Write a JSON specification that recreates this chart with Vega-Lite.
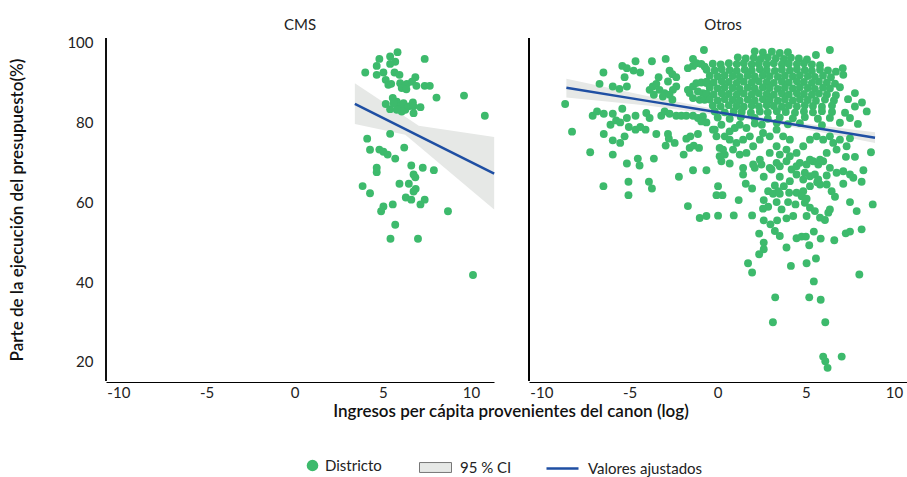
{
"$schema": "https://vega.github.io/schema/vega-lite/v6.json",
"padding": {"left": 8, "top": 18, "right": 0, "bottom": 0},
"data": {"values": [
{"g":"CMS","x":5.83,"y":97.7},{"g":"CMS","x":5.41,"y":96.6},{"g":"CMS","x":4.8,"y":96.0},{"g":"CMS","x":7.37,"y":96.0},{"g":"CMS","x":5.70,"y":95.3},{"g":"CMS","x":5.41,"y":94.75},{"g":"CMS","x":4.65,"y":94.25},{"g":"CMS","x":4.0,"y":92.6},{"g":"CMS","x":4.65,"y":92.0},{"g":"CMS","x":5.03,"y":92.6},{"g":"CMS","x":5.66,"y":92.6},{"g":"CMS","x":5.94,"y":92.0},{"g":"CMS","x":6.84,"y":91.4},{"g":"CMS","x":5.16,"y":90.75},{"g":"CMS","x":5.31,"y":89.5},{"g":"CMS","x":5.47,"y":89.75},{"g":"CMS","x":5.98,"y":89.9},{"g":"CMS","x":6.36,"y":89.75},{"g":"CMS","x":6.65,"y":90.3},{"g":"CMS","x":6.90,"y":89.25},{"g":"CMS","x":7.37,"y":89.25},{"g":"CMS","x":7.66,"y":89.25},{"g":"CMS","x":6.07,"y":88.7},{"g":"CMS","x":6.33,"y":88.4},{"g":"CMS","x":9.6,"y":86.8},{"g":"CMS","x":8.04,"y":86.3},{"g":"CMS","x":5.56,"y":86.2},{"g":"CMS","x":5.16,"y":84.7},{"g":"CMS","x":5.41,"y":83.4},{"g":"CMS","x":5.79,"y":85.3},{"g":"CMS","x":5.89,"y":84.5},{"g":"CMS","x":5.98,"y":84.1},{"g":"CMS","x":6.17,"y":84.9},{"g":"CMS","x":6.27,"y":83.25},{"g":"CMS","x":6.46,"y":84.1},{"g":"CMS","x":6.70,"y":85.1},{"g":"CMS","x":6.74,"y":84.1},{"g":"CMS","x":7.13,"y":83.9},{"g":"CMS","x":6.74,"y":82.4},{"g":"CMS","x":6.07,"y":82.8},{"g":"CMS","x":5.79,"y":83.25},{"g":"CMS","x":5.6,"y":84.9},{"g":"CMS","x":10.78,"y":81.75},{"g":"CMS","x":5.41,"y":77.2},{"g":"CMS","x":4.11,"y":76.0},{"g":"CMS","x":4.27,"y":73.2},{"g":"CMS","x":4.8,"y":73.25},{"g":"CMS","x":5.03,"y":72.7},{"g":"CMS","x":5.27,"y":72.0},{"g":"CMS","x":6.21,"y":73.75},{"g":"CMS","x":5.70,"y":71.0},{"g":"CMS","x":4.65,"y":68.7},{"g":"CMS","x":4.65,"y":67.6},{"g":"CMS","x":6.61,"y":69.25},{"g":"CMS","x":7.26,"y":68.7},{"g":"CMS","x":7.89,"y":68.1},{"g":"CMS","x":6.74,"y":67.0},{"g":"CMS","x":6.84,"y":66.3},{"g":"CMS","x":3.85,"y":64.1},{"g":"CMS","x":4.27,"y":62.3},{"g":"CMS","x":5.94,"y":64.7},{"g":"CMS","x":6.47,"y":64.7},{"g":"CMS","x":6.86,"y":63.4},{"g":"CMS","x":6.74,"y":62.75},{"g":"CMS","x":6.30,"y":61.25},{"g":"CMS","x":6.61,"y":60.7},{"g":"CMS","x":7.37,"y":60.7},{"g":"CMS","x":7.13,"y":59.5},{"g":"CMS","x":5.56,"y":59.5},{"g":"CMS","x":5.03,"y":59.0},{"g":"CMS","x":4.9,"y":57.8},{"g":"CMS","x":8.69,"y":57.8},{"g":"CMS","x":5.70,"y":54.4},{"g":"CMS","x":5.43,"y":50.9},{"g":"CMS","x":6.99,"y":50.9},{"g":"CMS","x":10.11,"y":41.8},
{"g":"Otros","x":-0.78,"y":98.25},{"g":"Otros","x":-2.95,"y":96.0},{"g":"Otros","x":-3.73,"y":95.43},{"g":"Otros","x":-4.66,"y":95.43},{"g":"Otros","x":-5.41,"y":94.25},{"g":"Otros","x":-5.15,"y":93.68},{"g":"Otros","x":-4.77,"y":93.08},{"g":"Otros","x":-4.39,"y":92.58},{"g":"Otros","x":-6.48,"y":92.58},{"g":"Otros","x":-5.28,"y":91.43},{"g":"Otros","x":-3.35,"y":91.43},{"g":"Otros","x":-2.73,"y":93.08},{"g":"Otros","x":-2.57,"y":92.18},{"g":"Otros","x":-2.35,"y":91.43},{"g":"Otros","x":-1.69,"y":93.68},{"g":"Otros","x":-1.40,"y":94.25},{"g":"Otros","x":-1.21,"y":94.93},{"g":"Otros","x":-0.93,"y":94.75},{"g":"Otros","x":-0.74,"y":94.08},{"g":"Otros","x":-1.40,"y":96.0},
{"g":"Otros","x":-6.70,"y":89.75},{"g":"Otros","x":-5.95,"y":89.08},{"g":"Otros","x":-5.57,"y":88.5},{"g":"Otros","x":-5.15,"y":89.08},{"g":"Otros","x":-3.86,"y":88.25},{"g":"Otros","x":-3.68,"y":89.08},{"g":"Otros","x":-3.48,"y":89.75},{"g":"Otros","x":-3.30,"y":88.25},{"g":"Otros","x":-3.01,"y":87.43},{"g":"Otros","x":-3.11,"y":86.58},{"g":"Otros","x":-2.82,"y":90.33},{"g":"Otros","x":-2.54,"y":88.25},{"g":"Otros","x":-2.35,"y":89.08},{"g":"Otros","x":-2.73,"y":87.0},{"g":"Otros","x":-3.62,"y":87.0},{"g":"Otros","x":-2.57,"y":85.75},{"g":"Otros","x":-1.69,"y":88.25},{"g":"Otros","x":-1.40,"y":89.08},{"g":"Otros","x":-1.21,"y":89.93},{"g":"Otros","x":-0.93,"y":90.08},{"g":"Otros","x":-0.64,"y":89.93},{"g":"Otros","x":-1.59,"y":87.43},{"g":"Otros","x":-1.12,"y":87.83},{"g":"Otros","x":-0.84,"y":87.43},{"g":"Otros","x":-1.40,"y":86.18},{"g":"Otros","x":-1.02,"y":85.75},{"g":"Otros","x":-0.74,"y":85.75},
{"g":"Otros","x":-8.65,"y":84.68},{"g":"Otros","x":-7.09,"y":81.75},{"g":"Otros","x":-6.84,"y":82.83},{"g":"Otros","x":-6.46,"y":82.25},{"g":"Otros","x":-5.95,"y":82.25},{"g":"Otros","x":-5.41,"y":83.5},{"g":"Otros","x":-5.15,"y":81.18},{"g":"Otros","x":-4.66,"y":81.75},{"g":"Otros","x":-4.05,"y":82.43},{"g":"Otros","x":-3.86,"y":81.18},{"g":"Otros","x":-3.20,"y":81.75},{"g":"Otros","x":-3.01,"y":82.83},{"g":"Otros","x":-2.73,"y":82.25},{"g":"Otros","x":-2.35,"y":81.75},{"g":"Otros","x":-2.06,"y":81.75},{"g":"Otros","x":-1.78,"y":81.75},{"g":"Otros","x":-1.40,"y":81.75},{"g":"Otros","x":-1.12,"y":81.18},{"g":"Otros","x":-0.84,"y":81.58},
{"g":"Otros","x":-6.08,"y":79.5},{"g":"Otros","x":-5.76,"y":80.58},{"g":"Otros","x":-5.53,"y":80.08},{"g":"Otros","x":-5.04,"y":78.93},{"g":"Otros","x":-4.66,"y":78.25},{"g":"Otros","x":-4.39,"y":78.93},{"g":"Otros","x":-4.09,"y":78.25},{"g":"Otros","x":-0.93,"y":80.33},{"g":"Otros","x":-0.64,"y":80.08},
{"g":"Otros","x":-8.26,"y":77.75},{"g":"Otros","x":-6.46,"y":77.18},{"g":"Otros","x":-5.28,"y":76.58},{"g":"Otros","x":-5.95,"y":75.58},{"g":"Otros","x":-5.53,"y":74.93},{"g":"Otros","x":-3.48,"y":77.18},{"g":"Otros","x":-2.82,"y":77.18},{"g":"Otros","x":-2.77,"y":76.0},{"g":"Otros","x":-2.44,"y":74.93},{"g":"Otros","x":-2.95,"y":74.25},{"g":"Otros","x":-1.78,"y":76.0},{"g":"Otros","x":-1.55,"y":76.58},{"g":"Otros","x":-1.12,"y":77.18},{"g":"Otros","x":-1.36,"y":74.25},{"g":"Otros","x":-1.59,"y":73.68},{"g":"Otros","x":-1.06,"y":73.68},{"g":"Otros","x":-0.27,"y":78.25},
{"g":"Otros","x":-7.23,"y":72.58},{"g":"Otros","x":-5.95,"y":72.0},{"g":"Otros","x":-4.53,"y":71.0},{"g":"Otros","x":-4.43,"y":69.25},{"g":"Otros","x":-3.62,"y":71.0},{"g":"Otros","x":-5.15,"y":69.75},{"g":"Otros","x":-1.93,"y":72.0},{"g":"Otros","x":0.11,"y":73.68},{"g":"Otros","x":0.40,"y":72.0},{"g":"Otros","x":0.21,"y":70.33},{"g":"Otros","x":-2.20,"y":66.43},{"g":"Otros","x":-1.40,"y":68.08},{"g":"Otros","x":-0.64,"y":68.08},{"g":"Otros","x":-6.48,"y":64.08},{"g":"Otros","x":-5.06,"y":65.18},{"g":"Otros","x":-5.06,"y":61.83},{"g":"Otros","x":-3.90,"y":65.18},{"g":"Otros","x":-3.73,"y":63.5},{"g":"Otros","x":0.02,"y":64.08},{"g":"Otros","x":-0.07,"y":61.83},{"g":"Otros","x":0.27,"y":61.83},{"g":"Otros","x":-1.69,"y":59.08},{"g":"Otros","x":-1.02,"y":56.08},{"g":"Otros","x":-0.64,"y":56.58},{"g":"Otros","x":0.02,"y":56.68},
{"g":"Otros","x":0.68,"y":69.75},{"g":"Otros","x":1.44,"y":68.68},{"g":"Otros","x":1.44,"y":67.0},{"g":"Otros","x":2.10,"y":68.68},{"g":"Otros","x":2.48,"y":69.5},{"g":"Otros","x":2.95,"y":68.68},{"g":"Otros","x":3.34,"y":69.93},{"g":"Otros","x":3.52,"y":69.08},{"g":"Otros","x":3.90,"y":70.33},{"g":"Otros","x":4.19,"y":68.25},{"g":"Otros","x":4.47,"y":69.08},{"g":"Otros","x":4.66,"y":69.93},{"g":"Otros","x":5.04,"y":69.5},{"g":"Otros","x":5.41,"y":70.33},{"g":"Otros","x":5.70,"y":69.5},{"g":"Otros","x":5.98,"y":70.33},{"g":"Otros","x":6.36,"y":68.68},{"g":"Otros","x":6.74,"y":67.43},{"g":"Otros","x":7.12,"y":67.83},{"g":"Otros","x":7.50,"y":67.0},{"g":"Otros","x":7.69,"y":66.18},{"g":"Otros","x":8.26,"y":68.08},
{"g":"Otros","x":2.61,"y":66.43},{"g":"Otros","x":3.52,"y":66.43},{"g":"Otros","x":3.05,"y":68.25},{"g":"Otros","x":4.09,"y":65.33},{"g":"Otros","x":4.47,"y":67.0},{"g":"Otros","x":4.94,"y":67.43},{"g":"Otros","x":4.85,"y":65.75},{"g":"Otros","x":5.23,"y":66.58},{"g":"Otros","x":5.51,"y":67.0},{"g":"Otros","x":5.70,"y":65.75},{"g":"Otros","x":6.18,"y":66.75},{"g":"Otros","x":5.80,"y":64.5},{"g":"Otros","x":1.59,"y":64.68},{"g":"Otros","x":1.95,"y":63.5},{"g":"Otros","x":1.19,"y":60.58},
{"g":"Otros","x":3.24,"y":64.25},{"g":"Otros","x":3.75,"y":64.08},{"g":"Otros","x":3.43,"y":62.83},{"g":"Otros","x":2.86,"y":62.83},{"g":"Otros","x":3.14,"y":62.18},{"g":"Otros","x":3.52,"y":62.18},{"g":"Otros","x":4.05,"y":62.43},{"g":"Otros","x":4.47,"y":62.43},{"g":"Otros","x":4.85,"y":62.83},{"g":"Otros","x":4.76,"y":61.58},{"g":"Otros","x":5.04,"y":60.93},{"g":"Otros","x":5.23,"y":64.08},{"g":"Otros","x":5.64,"y":65.08},{"g":"Otros","x":6.18,"y":64.5},{"g":"Otros","x":6.46,"y":62.83},{"g":"Otros","x":6.65,"y":61.43},{"g":"Otros","x":7.12,"y":64.68},{"g":"Otros","x":8.16,"y":65.18},{"g":"Otros","x":7.50,"y":60.08},{"g":"Otros","x":7.88,"y":57.83},{"g":"Otros","x":8.79,"y":59.5},
{"g":"Otros","x":2.61,"y":60.58},{"g":"Otros","x":2.86,"y":58.93},{"g":"Otros","x":2.57,"y":58.43},{"g":"Otros","x":3.34,"y":60.08},{"g":"Otros","x":3.62,"y":58.25},{"g":"Otros","x":3.99,"y":60.08},{"g":"Otros","x":4.41,"y":59.5},{"g":"Otros","x":4.94,"y":59.93},{"g":"Otros","x":5.23,"y":58.68},{"g":"Otros","x":5.51,"y":57.83},{"g":"Otros","x":5.80,"y":56.18},{"g":"Otros","x":6.08,"y":55.58},{"g":"Otros","x":6.27,"y":57.43},{"g":"Otros","x":6.36,"y":58.25},
{"g":"Otros","x":0.91,"y":56.75},{"g":"Otros","x":1.95,"y":56.75},{"g":"Otros","x":2.61,"y":55.5},{"g":"Otros","x":3.37,"y":55.5},{"g":"Otros","x":3.90,"y":56.0},{"g":"Otros","x":4.28,"y":56.58},{"g":"Otros","x":5.04,"y":56.58},{"g":"Otros","x":2.99,"y":54.5},{"g":"Otros","x":3.24,"y":52.83},{"g":"Otros","x":3.52,"y":51.58},{"g":"Otros","x":2.35,"y":52.18},{"g":"Otros","x":2.61,"y":49.93},{"g":"Otros","x":2.61,"y":48.25},{"g":"Otros","x":2.35,"y":47.0},{"g":"Otros","x":4.47,"y":51.0},{"g":"Otros","x":4.76,"y":51.43},{"g":"Otros","x":5.0,"y":51.43},{"g":"Otros","x":5.45,"y":52.68},{"g":"Otros","x":5.84,"y":50.93},{"g":"Otros","x":6.61,"y":50.5},{"g":"Otros","x":7.26,"y":52.25},{"g":"Otros","x":7.50,"y":52.68},{"g":"Otros","x":8.16,"y":53.25},{"g":"Otros","x":3.90,"y":48.68},{"g":"Otros","x":5.19,"y":49.25},
{"g":"Otros","x":1.72,"y":44.75},{"g":"Otros","x":1.95,"y":42.43},{"g":"Otros","x":4.15,"y":44.08},{"g":"Otros","x":5.04,"y":44.75},{"g":"Otros","x":5.57,"y":45.93},{"g":"Otros","x":8.03,"y":41.93},{"g":"Otros","x":3.26,"y":36.18},{"g":"Otros","x":3.13,"y":29.93},{"g":"Otros","x":5.45,"y":40.18},{"g":"Otros","x":5.19,"y":36.18},{"g":"Otros","x":5.84,"y":35.58},{"g":"Otros","x":6.10,"y":29.93},{"g":"Otros","x":5.98,"y":21.33},{"g":"Otros","x":6.10,"y":20.18},{"g":"Otros","x":6.23,"y":18.5},{"g":"Otros","x":7.03,"y":21.33},{"g":"Otros","x":8.69,"y":72.58},{"g":"Otros","x":7.78,"y":71.43},{"g":"Otros","x":7.27,"y":71.43},
{"g":"Otros","x":-0.17,"y":78.25},{"g":"Otros","x":0.21,"y":79.5},{"g":"Otros","x":0.40,"y":76.58},{"g":"Otros","x":-0.07,"y":76.58},{"g":"Otros","x":0.68,"y":77.83},{"g":"Otros","x":0.97,"y":78.68},{"g":"Otros","x":1.25,"y":79.5},{"g":"Otros","x":1.63,"y":78.68},{"g":"Otros","x":1.82,"y":76.58},{"g":"Otros","x":1.44,"y":75.75},{"g":"Otros","x":1.06,"y":74.93},{"g":"Otros","x":0.68,"y":75.75},{"g":"Otros","x":0.30,"y":73.25},{"g":"Otros","x":0.11,"y":71.58},{"g":"Otros","x":0.87,"y":73.25},{"g":"Otros","x":1.25,"y":72.0},{"g":"Otros","x":1.63,"y":72.43},{"g":"Otros","x":2.01,"y":74.08},{"g":"Otros","x":2.39,"y":75.75},{"g":"Otros","x":2.57,"y":77.43},{"g":"Otros","x":2.95,"y":76.58},{"g":"Otros","x":3.34,"y":78.25},{"g":"Otros","x":3.71,"y":76.58},{"g":"Otros","x":4.09,"y":75.75},{"g":"Otros","x":3.90,"y":73.25},{"g":"Otros","x":3.34,"y":74.08},{"g":"Otros","x":2.95,"y":72.43},{"g":"Otros","x":3.52,"y":72.0},{"g":"Otros","x":4.09,"y":71.58},{"g":"Otros","x":4.47,"y":72.43},{"g":"Otros","x":4.85,"y":74.08},{"g":"Otros","x":5.23,"y":75.75},{"g":"Otros","x":5.61,"y":76.58},{"g":"Otros","x":5.98,"y":75.75},{"g":"Otros","x":6.36,"y":76.58},{"g":"Otros","x":6.55,"y":74.93},{"g":"Otros","x":6.93,"y":75.75},{"g":"Otros","x":7.31,"y":74.08},{"g":"Otros","x":6.74,"y":73.25},{"g":"Otros","x":6.18,"y":72.43},{"g":"Otros","x":5.80,"y":70.75},{"g":"Otros","x":5.23,"y":70.75},{"g":"Otros","x":2.39,"y":70.75},{"g":"Otros","x":2.01,"y":69.5},{"g":"Otros","x":7.50,"y":76.08},
{"g":"Otros","x":7.78,"y":87.43},{"g":"Otros","x":8.18,"y":85.08},{"g":"Otros","x":8.45,"y":82.83},{"g":"Otros","x":7.78,"y":84.08},{"g":"Otros","x":7.50,"y":81.18},{"g":"Otros","x":7.09,"y":93.68},{"g":"Otros","x":7.12,"y":92.0},{"g":"Otros","x":6.36,"y":98.25},{"g":"Otros","x":5.57,"y":97.0},
{"g":"Otros","x":2.10,"y":97.9},{"g":"Otros","x":2.56,"y":97.6},{"g":"Otros","x":3.07,"y":97.8},{"g":"Otros","x":3.52,"y":97.5},{"g":"Otros","x":3.98,"y":97.7},
{"g":"Otros","x":1.14,"y":96.4},{"g":"Otros","x":1.59,"y":96.1},{"g":"Otros","x":2.05,"y":96.3},{"g":"Otros","x":2.44,"y":96.0},{"g":"Otros","x":2.84,"y":96.4},{"g":"Otros","x":3.30,"y":96.2},{"g":"Otros","x":3.75,"y":96.0},{"g":"Otros","x":4.15,"y":96.3},{"g":"Otros","x":4.60,"y":96.1},{"g":"Otros","x":5.06,"y":95.9},
{"g":"Otros","x":-0.28,"y":94.8},{"g":"Otros","x":0.17,"y":94.6},{"g":"Otros","x":0.63,"y":94.9},{"g":"Otros","x":1.08,"y":94.7},{"g":"Otros","x":1.48,"y":94.9},{"g":"Otros","x":1.93,"y":94.6},{"g":"Otros","x":2.33,"y":94.8},{"g":"Otros","x":2.78,"y":94.7},{"g":"Otros","x":3.18,"y":94.9},{"g":"Otros","x":3.64,"y":94.6},{"g":"Otros","x":4.03,"y":94.8},{"g":"Otros","x":4.49,"y":94.7},{"g":"Otros","x":4.89,"y":94.9},{"g":"Otros","x":5.34,"y":94.6},{"g":"Otros","x":5.80,"y":94.4},
{"g":"Otros","x":-0.63,"y":93.3},{"g":"Otros","x":-0.17,"y":93.1},{"g":"Otros","x":0.23,"y":93.4},{"g":"Otros","x":0.68,"y":93.2},{"g":"Otros","x":1.08,"y":93.0},{"g":"Otros","x":1.53,"y":93.3},{"g":"Otros","x":1.93,"y":93.1},{"g":"Otros","x":2.39,"y":93.4},{"g":"Otros","x":2.78,"y":93.2},{"g":"Otros","x":3.24,"y":93.0},{"g":"Otros","x":3.64,"y":93.3},{"g":"Otros","x":4.09,"y":93.1},{"g":"Otros","x":4.49,"y":93.4},{"g":"Otros","x":4.94,"y":93.2},{"g":"Otros","x":5.34,"y":93.0},{"g":"Otros","x":5.80,"y":93.3},{"g":"Otros","x":6.25,"y":93.1},{"g":"Otros","x":6.70,"y":92.8},
{"g":"Otros","x":-0.45,"y":91.8},{"g":"Otros","x":0,"y":91.6},{"g":"Otros","x":0.40,"y":91.9},{"g":"Otros","x":0.85,"y":91.7},{"g":"Otros","x":1.25,"y":91.5},{"g":"Otros","x":1.70,"y":91.8},{"g":"Otros","x":2.10,"y":91.6},{"g":"Otros","x":2.56,"y":91.9},{"g":"Otros","x":2.95,"y":91.7},{"g":"Otros","x":3.41,"y":91.5},{"g":"Otros","x":3.81,"y":91.8},{"g":"Otros","x":4.26,"y":91.6},{"g":"Otros","x":4.66,"y":91.9},{"g":"Otros","x":5.11,"y":91.7},{"g":"Otros","x":5.51,"y":91.5},{"g":"Otros","x":5.97,"y":91.8},{"g":"Otros","x":6.42,"y":91.4},
{"g":"Otros","x":-0.63,"y":90.3},{"g":"Otros","x":-0.23,"y":90.1},{"g":"Otros","x":0.23,"y":90.4},{"g":"Otros","x":0.63,"y":90.2},{"g":"Otros","x":1.08,"y":90.0},{"g":"Otros","x":1.48,"y":90.3},{"g":"Otros","x":1.93,"y":90.1},{"g":"Otros","x":2.33,"y":90.4},{"g":"Otros","x":2.78,"y":90.2},{"g":"Otros","x":3.18,"y":90.0},{"g":"Otros","x":3.64,"y":90.3},{"g":"Otros","x":4.03,"y":90.1},{"g":"Otros","x":4.49,"y":90.4},{"g":"Otros","x":4.89,"y":90.2},{"g":"Otros","x":5.34,"y":90.0},{"g":"Otros","x":5.74,"y":90.3},{"g":"Otros","x":6.19,"y":90.1},{"g":"Otros","x":6.65,"y":89.8},
{"g":"Otros","x":-0.45,"y":88.8},{"g":"Otros","x":0,"y":88.6},{"g":"Otros","x":0.40,"y":88.9},{"g":"Otros","x":0.85,"y":88.7},{"g":"Otros","x":1.25,"y":88.5},{"g":"Otros","x":1.70,"y":88.8},{"g":"Otros","x":2.10,"y":88.6},{"g":"Otros","x":2.56,"y":88.9},{"g":"Otros","x":2.95,"y":88.7},{"g":"Otros","x":3.41,"y":88.5},{"g":"Otros","x":3.81,"y":88.8},{"g":"Otros","x":4.26,"y":88.6},{"g":"Otros","x":4.66,"y":88.9},{"g":"Otros","x":5.11,"y":88.7},{"g":"Otros","x":5.51,"y":88.5},{"g":"Otros","x":5.97,"y":88.8},{"g":"Otros","x":6.36,"y":88.6},{"g":"Otros","x":6.93,"y":88.9},
{"g":"Otros","x":-0.63,"y":87.3},{"g":"Otros","x":-0.23,"y":87.1},{"g":"Otros","x":0.23,"y":87.4},{"g":"Otros","x":0.63,"y":87.2},{"g":"Otros","x":1.08,"y":87.0},{"g":"Otros","x":1.48,"y":87.3},{"g":"Otros","x":1.93,"y":87.1},{"g":"Otros","x":2.33,"y":87.4},{"g":"Otros","x":2.78,"y":87.2},{"g":"Otros","x":3.18,"y":87.0},{"g":"Otros","x":3.64,"y":87.3},{"g":"Otros","x":4.03,"y":87.1},{"g":"Otros","x":4.49,"y":87.4},{"g":"Otros","x":4.89,"y":87.2},{"g":"Otros","x":5.34,"y":87.0},{"g":"Otros","x":5.74,"y":87.3},{"g":"Otros","x":6.19,"y":87.1},{"g":"Otros","x":6.70,"y":86.9},
{"g":"Otros","x":-0.45,"y":85.8},{"g":"Otros","x":0,"y":85.6},{"g":"Otros","x":0.40,"y":85.9},{"g":"Otros","x":0.85,"y":85.7},{"g":"Otros","x":1.25,"y":85.5},{"g":"Otros","x":1.70,"y":85.8},{"g":"Otros","x":2.10,"y":85.6},{"g":"Otros","x":2.56,"y":85.9},{"g":"Otros","x":2.95,"y":85.7},{"g":"Otros","x":3.41,"y":85.5},{"g":"Otros","x":3.81,"y":85.8},{"g":"Otros","x":4.26,"y":85.6},{"g":"Otros","x":4.66,"y":85.9},{"g":"Otros","x":5.11,"y":85.7},{"g":"Otros","x":5.57,"y":85.5},{"g":"Otros","x":6.08,"y":85.8},{"g":"Otros","x":6.59,"y":85.6},{"g":"Otros","x":7.39,"y":85.9},
{"g":"Otros","x":-0.28,"y":84.3},{"g":"Otros","x":0.17,"y":84.1},{"g":"Otros","x":0.63,"y":84.4},{"g":"Otros","x":1.08,"y":84.2},{"g":"Otros","x":1.48,"y":84.0},{"g":"Otros","x":1.93,"y":84.3},{"g":"Otros","x":2.33,"y":84.1},{"g":"Otros","x":2.78,"y":84.4},{"g":"Otros","x":3.18,"y":84.2},{"g":"Otros","x":3.64,"y":84.0},{"g":"Otros","x":4.03,"y":84.3},{"g":"Otros","x":4.49,"y":84.1},{"g":"Otros","x":4.94,"y":84.4},{"g":"Otros","x":5.40,"y":84.2},{"g":"Otros","x":5.91,"y":84.0},{"g":"Otros","x":6.48,"y":84.3},
{"g":"Otros","x":-0.17,"y":82.8},{"g":"Otros","x":0.40,"y":82.6},{"g":"Otros","x":0.91,"y":82.9},{"g":"Otros","x":1.36,"y":82.7},{"g":"Otros","x":1.88,"y":82.5},{"g":"Otros","x":2.39,"y":82.8},{"g":"Otros","x":2.84,"y":82.6},{"g":"Otros","x":3.35,"y":82.9},{"g":"Otros","x":3.86,"y":82.7},{"g":"Otros","x":4.38,"y":82.5},{"g":"Otros","x":4.89,"y":82.8},{"g":"Otros","x":5.40,"y":82.6},{"g":"Otros","x":5.91,"y":82.9},{"g":"Otros","x":6.48,"y":82.7},{"g":"Otros","x":7.22,"y":82.5},
{"g":"Otros","x":0,"y":81.3},{"g":"Otros","x":0.68,"y":81.0},{"g":"Otros","x":1.31,"y":81.4},{"g":"Otros","x":2.10,"y":81.2},{"g":"Otros","x":2.84,"y":81.0},{"g":"Otros","x":3.52,"y":81.3},{"g":"Otros","x":4.26,"y":81.1},{"g":"Otros","x":4.94,"y":81.4},{"g":"Otros","x":5.68,"y":81.0},{"g":"Otros","x":6.36,"y":81.2},
{"g":"Otros","x":2.10,"y":79.8},{"g":"Otros","x":2.5,"y":79.5},{"g":"Otros","x":3.35,"y":80.0},{"g":"Otros","x":3.98,"y":79.6},{"g":"Otros","x":4.66,"y":79.9},{"g":"Otros","x":5.91,"y":79.4},{"g":"Otros","x":6.93,"y":80.0},{"g":"Otros","x":7.95,"y":79.7},
{"g":"CMS","f":1,"x":3.41,"y":84.75,"lo":79.7,"hi":89.9},{"g":"CMS","f":1,"x":6.27,"y":78.41,"lo":77.0,"hi":81.49},{"g":"CMS","f":1,"x":7.03,"y":76.72,"lo":74.17,"hi":79.25},{"g":"CMS","f":1,"x":11.31,"y":67.23,"lo":58.25,"hi":76.4},
{"g":"Otros","f":1,"x":-8.58,"y":88.75,"lo":86.3,"hi":91.0},{"g":"Otros","f":1,"x":-4,"y":85.48,"lo":84.3,"hi":86.7},{"g":"Otros","f":1,"x":0,"y":82.62,"lo":81.95,"hi":83.3},{"g":"Otros","f":1,"x":3,"y":80.48,"lo":79.95,"hi":81.0},{"g":"Otros","f":1,"x":6,"y":78.34,"lo":77.5,"hi":79.2},{"g":"Otros","f":1,"x":8.92,"y":76.25,"lo":74.9,"hi":77.6}
]},
"facet": {"column": {"field": "g", "type": "nominal", "title": "Ingresos per cápita provenientes del canon (log)",
  "header": {"labelFontSize": 15, "labelColor": "#222222", "labelPadding": 4, "labelOrient": "top",
             "titleOrient": "bottom", "titleFontSize": 17, "titleFontWeight": 600, "titleColor": "#111111", "titlePadding": -6}}},
"spacing": 28,
"spec": {
  "width": 388,
  "height": 343,
  "layer": [
    {"transform": [{"filter": "datum.f == 1"}],
     "mark": {"type": "area", "opacity": 1},
     "encoding": {
       "x": {"field": "x", "type": "quantitative", "scale": {"domain": [-10.7, 11.3], "nice": false, "zero": false},
             "axis": {"title": null, "values": [-10, -5, 0, 5, 10], "labelExpr": "'' + datum.value", "labelPadding": 3}},
       "y": {"field": "lo", "type": "quantitative", "scale": {"domain": [15.2, 101.25], "nice": false, "zero": false},
             "axis": {"title": "Parte de la ejecución del presupuesto(%)", "values": [20, 40, 60, 80, 100], "labelPadding": 12, "titlePadding": 40, "domain": false}},
       "y2": {"field": "hi"},
       "fill": {"datum": "95 % CI", "scale": {"range": ["#e6e8e6"]},
         "legend": {"orient": "none", "legendX": 313, "legendY": 413, "title": null, "labelFontSize": 15, "labelColor": "#222222",
           "symbolType": "M-1,-0.31H1V0.31H-1Z", "symbolSize": 1024, "symbolStrokeColor": "#777777", "symbolStrokeWidth": 1, "labelOffset": 8}}
     }},
    {"transform": [{"filter": "datum.f != 1"}],
     "mark": {"type": "circle", "size": 62, "opacity": 1},
     "encoding": {
       "x": {"field": "x", "type": "quantitative"},
       "y": {"field": "y", "type": "quantitative"},
       "color": {"datum": "Districto", "scale": {"range": ["#3dba6c"]},
         "legend": {"orient": "none", "legendX": 199, "legendY": 420, "title": null, "labelFontSize": 15, "labelColor": "#222222",
           "symbolType": "circle", "symbolSize": 135, "symbolOpacity": 1, "labelOffset": 5}}
     }},
    {"transform": [{"filter": "datum.f == 1"}],
     "mark": {"type": "line", "strokeWidth": 2.5},
     "encoding": {
       "x": {"field": "x", "type": "quantitative"},
       "y": {"field": "y", "type": "quantitative"},
       "stroke": {"datum": "Valores ajustados", "scale": {"range": ["#1f4fa3"]},
         "legend": {"orient": "none", "legendX": 439, "legendY": 413, "title": null, "labelFontSize": 15, "labelColor": "#222222",
           "symbolType": "stroke", "symbolSize": 1024, "symbolStrokeWidth": 2.5, "labelOffset": 8}}
     }},
    {"transform": [{"filter": "datum.f == 1"}],
     "mark": {"type": "rule", "color": "#000000", "strokeWidth": 1},
     "encoding": {"x": {"datum": -10.7}}}
  ]
},
"config": {
  "font": "Lato",
  "view": {"stroke": null},
  "axis": {"grid": false, "ticks": false, "domainColor": "#000000", "labelFontSize": 15, "labelColor": "#222222", "titleFontSize": 17, "titleFontWeight": 600, "titleColor": "#111111"}
}
}
